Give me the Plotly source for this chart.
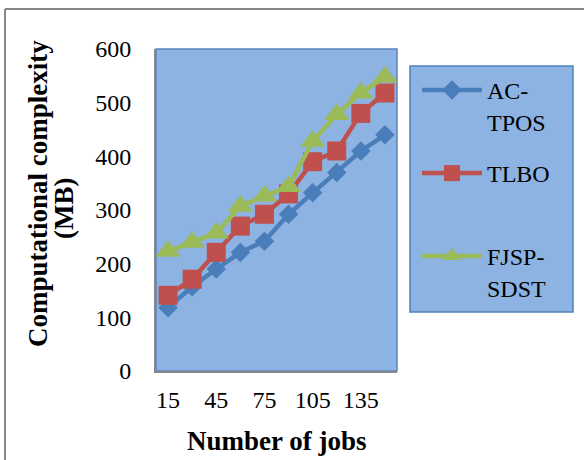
import plotly.graph_objects as go

jobs = [15, 30, 45, 60, 75, 90, 105, 120, 135, 150]
tick_jobs = [15, 45, 75, 105, 135]
ac_tpos = [118, 157, 190, 221, 242, 292, 332, 370, 410, 440]
tlbo = [141, 171, 221, 270, 292, 330, 390, 410, 480, 518]
fjsp_sdst = [223, 240, 257, 307, 326, 344, 428, 478, 518, 548]

names = ["AC-<br>TPOS", "TLBO", "FJSP-<br>SDST"]
colors = ["#4A7EBB", "#C0504D", "#9BBB59"]
symbols = ["diamond", "square", "triangle-up"]
msizes = [15, 19, 22]
series = [ac_tpos, tlbo, fjsp_sdst]
legends = ["legend", "legend2", "legend3"]

FONT = "Liberation Serif"
W, H = 584, 460
L, R, T, B = 156, 187, 49, 89
pw, ph = W - L - R, H - T - B

def px_x(x):
    return (x - L) / pw

def px_y(y):
    return (H - B - y) / ph

fig = go.Figure()
for nm, c, s, ms, ys, lg in zip(names, colors, symbols, msizes, series, legends):
    fig.add_trace(go.Scatter(
        x=jobs, y=ys, name=nm, mode="lines+markers",
        line=dict(color=c, width=4.5),
        marker=dict(symbol=s, size=ms, color=c),
        legend=lg,
    ))

leg_common = dict(
    bgcolor="rgba(0,0,0,0)", borderwidth=0,
    font=dict(family=FONT, size=24, color="black"),
    xanchor="left", yanchor="top", itemwidth=60, valign="top",
)
leg_tops = [68, 151, 234]
layout_legends = {}
for lg, top in zip(legends, leg_tops):
    layout_legends[lg] = dict(leg_common, x=px_x(417), y=px_y(top))

fig.update_layout(
    width=W, height=H,
    margin=dict(l=L, r=R, t=T, b=B, pad=0, autoexpand=False),
    paper_bgcolor="white",
    plot_bgcolor="#8DB3E2",
    font=dict(family=FONT, size=24, color="black"),
    showlegend=True,
    xaxis=dict(
        range=[7.5, 157.5], tickvals=tick_jobs, ticktext=[str(t) for t in tick_jobs],
        showgrid=False, zeroline=False, showline=True, linecolor="#868686", linewidth=2,
        ticks="", ticklabelstandoff=6, tickfont=dict(family=FONT, size=24),
    ),
    yaxis=dict(
        range=[0, 600], dtick=100,
        showgrid=False, zeroline=False, showline=True, linecolor="#868686", linewidth=2,
        ticks="", ticklabelstandoff=18, tickfont=dict(family=FONT, size=24),
    ),
    **layout_legends,
)

# plot area border, legend frame and outer chart frame (top and left edges)
fig.add_shape(type="rect", xref="paper", yref="paper", x0=0, x1=1, y0=0, y1=1,
              line=dict(color="#5B84BD", width=1.5), layer="below")
fig.add_shape(type="rect", xref="paper", yref="paper",
              x0=px_x(410), x1=px_x(573), y0=px_y(312), y1=px_y(66),
              fillcolor="#8DB3E2", line=dict(color="#4F81BD", width=1.5), layer="below")
fig.add_shape(type="line", xref="paper", yref="paper",
              x0=px_x(5), x1=px_x(584), y0=px_y(9), y1=px_y(9),
              line=dict(color="#878787", width=2), layer="below")
fig.add_shape(type="line", xref="paper", yref="paper",
              x0=px_x(5), x1=px_x(5), y0=px_y(9), y1=px_y(460),
              line=dict(color="#878787", width=2), layer="below")

# axis titles
ann_common = dict(xref="paper", yref="paper", showarrow=False,
                  xanchor="center", yanchor="middle")
fig.add_annotation(text="<b>Computational complexity</b>", x=px_x(38), y=px_y(194),
                   textangle=-90, font=dict(family=FONT, size=27, color="black"), **ann_common)
fig.add_annotation(text="<b>(MB)</b>", x=px_x(64), y=px_y(209),
                   textangle=-90, font=dict(family=FONT, size=27, color="black"), **ann_common)
fig.add_annotation(text="<b>Number of jobs</b>", x=px_x(277), y=px_y(441),
                   font=dict(family=FONT, size=27, color="black"), **ann_common)

fig.write_html("out.html", config={"displayModeBar": False},
               post_script="document.body.style.margin='0';document.body.style.overflow='hidden';")
